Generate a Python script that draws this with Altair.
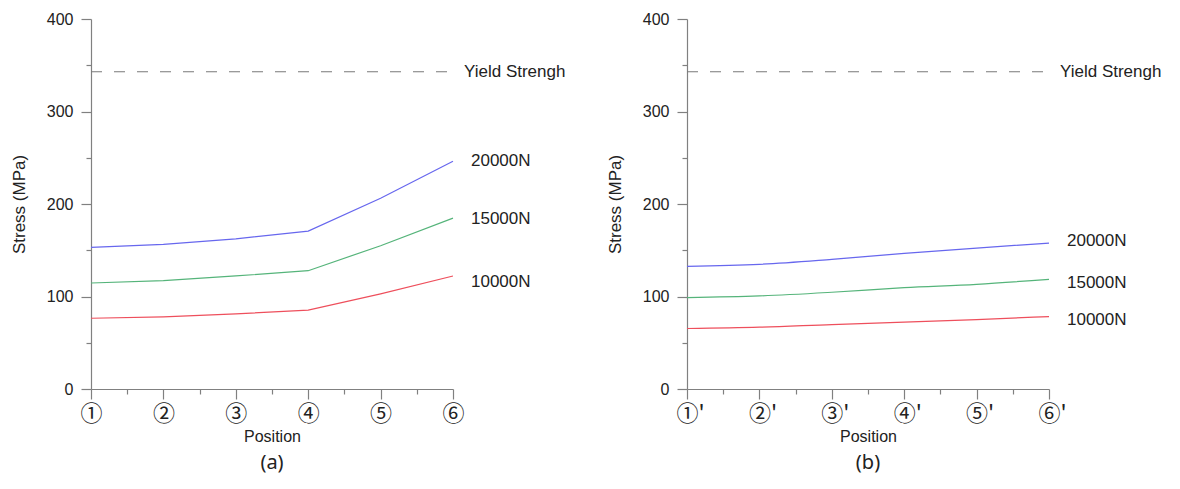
import altair as alt
import pandas as pd

positions = [1, 2, 3, 4, 5, 6]
minor_x = [1.5, 2.5, 3.5, 4.5, 5.5]
major_y = [0, 100, 200, 300, 400]
minor_y = [50, 150, 250, 350]
loads = ["20000N", "15000N", "10000N"]
colors = ["#6767ee", "#55b47a", "#ee4f5c"]

a_20000 = [153.1, 156.3, 162.4, 170.7, 206.3, 246.2]
a_15000 = [114.6, 117.2, 122.2, 127.9, 154.9, 184.7]
a_10000 = [76.5, 78.0, 81.2, 85.2, 102.8, 122.2]
b_20000 = [132.6, 134.8, 140.2, 146.6, 152.4, 157.8]
b_15000 = [98.8, 100.6, 104.6, 109.6, 113.2, 118.6]
b_10000 = [65.4, 66.8, 69.7, 72.2, 75.1, 78.3]

yield_strength = 343
yield_label = "Yield Strengh"
a_label_y = [246, 184, 116]
b_label_y = [160, 115, 75]

ticks_a = ["①", "②", "③", "④", "⑤", "⑥"]
ticks_b = ["①'", "②'", "③'", "④'", "⑤'", "⑥'"]

FONT = "Liberation Sans"
AX = "#808080"
TXT = "#222222"


def panel(series, label_y, tick_labels, title, interp, label_align, label_offset):
    rows = []
    for load, vals in zip(loads, series):
        for p, v in zip(positions, vals):
            rows.append({"pos": p, "stress": v, "load": load})
    df = pd.DataFrame(rows)
    ydf = pd.DataFrame({"pos": [positions[0], positions[-1]],
                        "stress": [yield_strength, yield_strength]})
    ldf = pd.DataFrame({"pos": [positions[-1]] * 3, "stress": label_y, "load": loads})
    yldf = pd.DataFrame({"pos": [positions[-1]], "stress": [yield_strength], "load": [yield_label]})

    xs = alt.Scale(domain=[1, 6], nice=False, zero=False)
    ys = alt.Scale(domain=[0, 400], nice=False)
    arr = "[" + ",".join('"%s"' % t for t in tick_labels) + "]"

    lines = alt.Chart(df).mark_line(strokeWidth=1.2, interpolate=interp).encode(
        x=alt.X("pos:Q", scale=xs, axis=alt.Axis(
            values=positions, labelExpr=arr + "[round(datum.value)-1]",
            tickSize=10, labelPadding=4, labelFont="Noto Sans CJK KR", labelFontSize=22,
            labelAlign=label_align, labelOffset=label_offset,
            title="Position", titleFont=FONT, titleFontSize=16, titleFontWeight="normal",
            titlePadding=4, orient="bottom", grid=False)),
        y=alt.Y("stress:Q", scale=ys, axis=alt.Axis(
            values=major_y, tickSize=10, labelPadding=8, labelFont=FONT, labelFontSize=16,
            title="Stress (MPa)", titleFont=FONT, titleFontSize=17, titleFontWeight="normal",
            titlePadding=18, orient="left", grid=False)),
        color=alt.Color("load:N", scale=alt.Scale(domain=loads, range=colors), legend=None),
    )

    yline = alt.Chart(ydf).mark_line(strokeDash=[11, 12], color="#7a7a7a", strokeWidth=1.2).encode(
        x=alt.X("pos:Q", scale=xs, axis=alt.Axis(
            values=minor_x, labels=False, domain=False, tickSize=5, title=None,
            orient="bottom", grid=False)),
        y=alt.Y("stress:Q", scale=ys, axis=alt.Axis(
            values=minor_y, labels=False, domain=False, tickSize=5, title=None,
            orient="left", grid=False)),
    )

    labels = alt.Chart(ldf).mark_text(align="left", baseline="middle", dx=18, font=FONT,
                                      fontSize=17, color=TXT).encode(
        x=alt.X("pos:Q", scale=xs, axis=None),
        y=alt.Y("stress:Q", scale=ys, axis=None),
        text="load:N",
    )
    ylab = alt.Chart(yldf).mark_text(align="left", baseline="middle", dx=11, font=FONT,
                                     fontSize=17, color=TXT).encode(
        x=alt.X("pos:Q", scale=xs, axis=None),
        y=alt.Y("stress:Q", scale=ys, axis=None),
        text="load:N",
    )

    return alt.layer(lines, yline, labels, ylab).resolve_axis(
        x="independent", y="independent"
    ).properties(
        width=362, height=370,
        title=alt.TitleParams(title, orient="bottom", anchor="middle", frame="group",
                              font="Noto Sans", fontSize=20, fontWeight="normal",
                              color=TXT, offset=9),
    )


pa = panel([a_20000, a_15000, a_10000], a_label_y, ticks_a, "(a)", "linear", "center", 0)
pb = panel([b_20000, b_15000, b_10000], b_label_y, ticks_b, "(b)", "monotone", "left", -11)

chart = alt.hconcat(pa, pb, spacing=40).properties(
    padding={"left": 2, "top": 3, "right": 0, "bottom": 10}
).configure_view(stroke=None).configure_axis(
    domainColor=AX, tickColor=AX, labelColor=TXT, titleColor=TXT, domainWidth=1.2, tickWidth=1.2
)

chart.save("out.html", embed_options={"renderer": "svg", "actions": False})
